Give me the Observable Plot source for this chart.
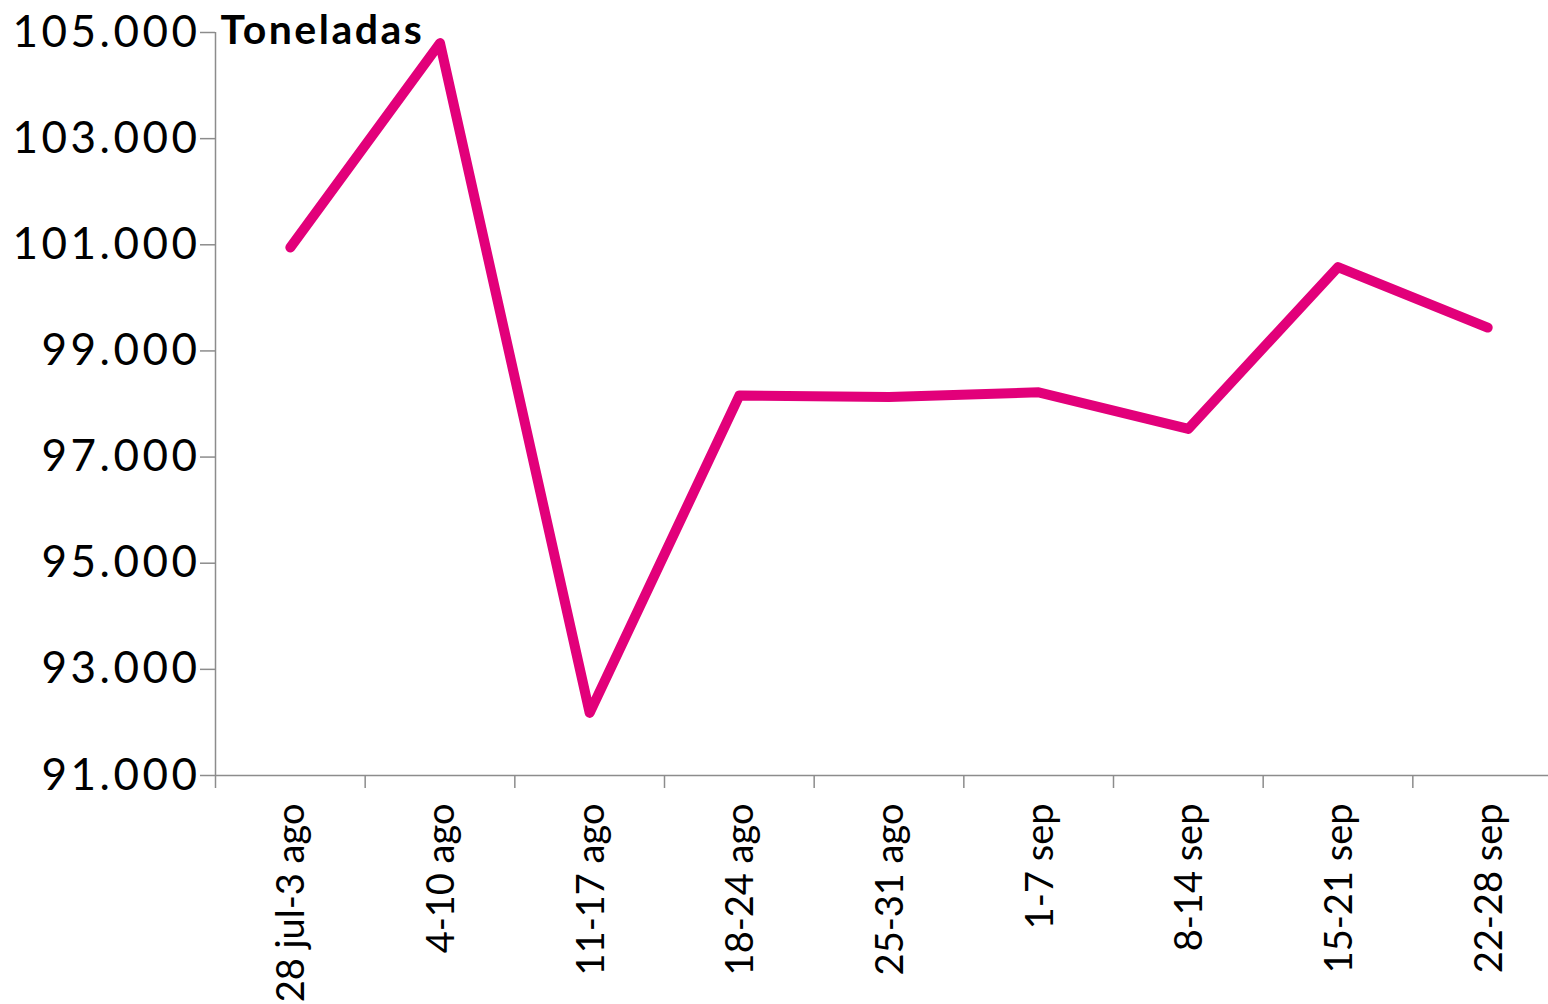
<!DOCTYPE html>
<html>
<head>
<meta charset="utf-8">
<script src="https://cdn.jsdelivr.net/npm/d3@7"></script>
<script src="https://cdn.jsdelivr.net/npm/@observablehq/plot@0.6"></script>
<style>
  html, body { margin: 0; padding: 0; background: #fff; overflow: hidden; }
  #chart { width: 1548px; height: 1004px; overflow: hidden; }
  #chart svg { max-width: none !important; }
  #chart g[aria-label="y-axis tick label"] text { letter-spacing: 3.5px; }
  #chart .unit-label text { letter-spacing: 2.5px; }
</style>
</head>
<body>
<div id="chart"></div>
<script>
const weeks = ["28 jul-3 ago", "4-10 ago", "11-17 ago", "18-24 ago", "25-31 ago", "1-7 sep", "8-14 sep", "15-21 sep", "22-28 sep"];
const tonnes = [100950, 104800, 92180, 98160, 98130, 98220, 97530, 100580, 99440];
const yTicks = [91000, 93000, 95000, 97000, 99000, 101000, 103000, 105000];
const unitLabel = "Toneladas";

const locale = d3.formatLocale({decimal: ",", thousands: ".", grouping: [3], currency: ["", "€"]});
const fmt = locale.format(",.0f");

const data = weeks.map((w, i) => ({week: w, pos: i + 0.5, value: tonnes[i]}));
const bandEdges = d3.range(0, weeks.length + 1);

const font = "Lato, 'Open Sans', sans-serif";
const axisColor = "#8c8c8c";

const chart = Plot.plot({
  width: 1562,
  height: 1004,
  marginLeft: 215,
  marginRight: 0,
  marginTop: 32,
  marginBottom: 229,
  style: {fontFamily: font, background: "#fff", overflow: "visible", maxWidth: "none"},
  x: {type: "linear", domain: [0, weeks.length], axis: null},
  y: {domain: [91000, 105000], axis: null},
  marks: [
    // y axis line
    Plot.ruleX([0], {stroke: axisColor, strokeWidth: 1.5}),
    // y ticks & labels
    Plot.axisY({ticks: yTicks, tickSize: 15, tickPadding: 0, tickFormat: fmt, fontSize: 44, stroke: axisColor, strokeWidth: 1.5, color: "#000", anchor: "left", label: null}),
    // x axis line
    Plot.ruleY([91000], {stroke: axisColor, strokeWidth: 1.5}),
    // x band ticks
    Plot.axisX({ticks: bandEdges, tickSize: 13, tickFormat: () => "", stroke: axisColor, strokeWidth: 1.5, anchor: "bottom", label: null}),
    // x labels (rotated)
    Plot.text(data, {x: "pos", text: "week", frameAnchor: "bottom", rotate: -90, textAnchor: "end", dx: 14, dy: 28, fontSize: 38, fill: "#000"}),
    // data line
    Plot.line(data, {x: "pos", y: "value", stroke: "#E2007A", strokeWidth: 10, strokeLinecap: "round", strokeLinejoin: "round"}),
    // unit label
    Plot.text([unitLabel], {frameAnchor: "top-left", dx: 5, dy: 11, lineAnchor: "bottom", textAnchor: "start", fontSize: 41, fontWeight: "bold", fill: "#000", className: "unit-label"})
  ]
});

document.getElementById("chart").appendChild(chart);
</script>
</body>
</html>
